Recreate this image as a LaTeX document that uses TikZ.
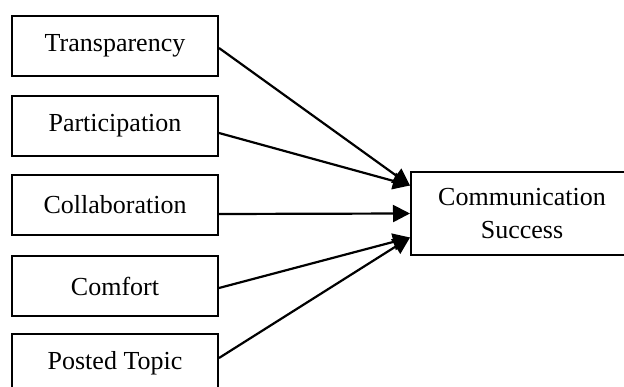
\documentclass[tikz,border=0pt]{standalone}
\usepackage{fontspec}
\setmainfont{Liberation Serif}
\usetikzlibrary{arrows.meta}
\begin{document}
\begin{tikzpicture}[x=1pt,y=-1pt,
  lbox/.style={draw, line width=2pt, minimum width=206pt, minimum height=60pt, inner sep=0pt, font=\fontsize{26}{32}\selectfont},
  rbox/.style={draw, line width=2pt, minimum width=222pt, minimum height=83pt, inner sep=0pt, align=center, font=\fontsize{26}{33}\selectfont},
  conn/.style={line width=2.2pt, -{Triangle[length=17pt,width=17pt]}}]
\useasboundingbox (0,0) rectangle (624,387);
\clip (0,0) rectangle (624,387);
\node[lbox] (b1) at (115,46) {Transparency};
\node[lbox] (b2) at (115,126) {Participation};
\node[lbox] (b3) at (115,205) {Collaboration};
\node[lbox] (b4) at (115,286) {Comfort};
\node[lbox] (b5) at (115,364) {\raisebox{7pt}{Posted Topic}};
\node[rbox] (cs) at (522,213.5) {Communication\\Success};
\draw[conn] ([yshift=-2pt]b1.east) -- ([yshift=28pt]cs.west);
\draw[conn] ([yshift=-7pt]b2.east) -- ([yshift=28pt]cs.west);
\draw[conn] ([yshift=-9pt]b3.east) -- ([yshift=0pt]cs.west);
\draw[conn] ([yshift=-2pt]b4.east) -- ([yshift=-24pt]cs.west);
\draw[conn] ([yshift=6pt]b5.east) -- ([yshift=-24pt]cs.west);
\end{tikzpicture}
\end{document}
